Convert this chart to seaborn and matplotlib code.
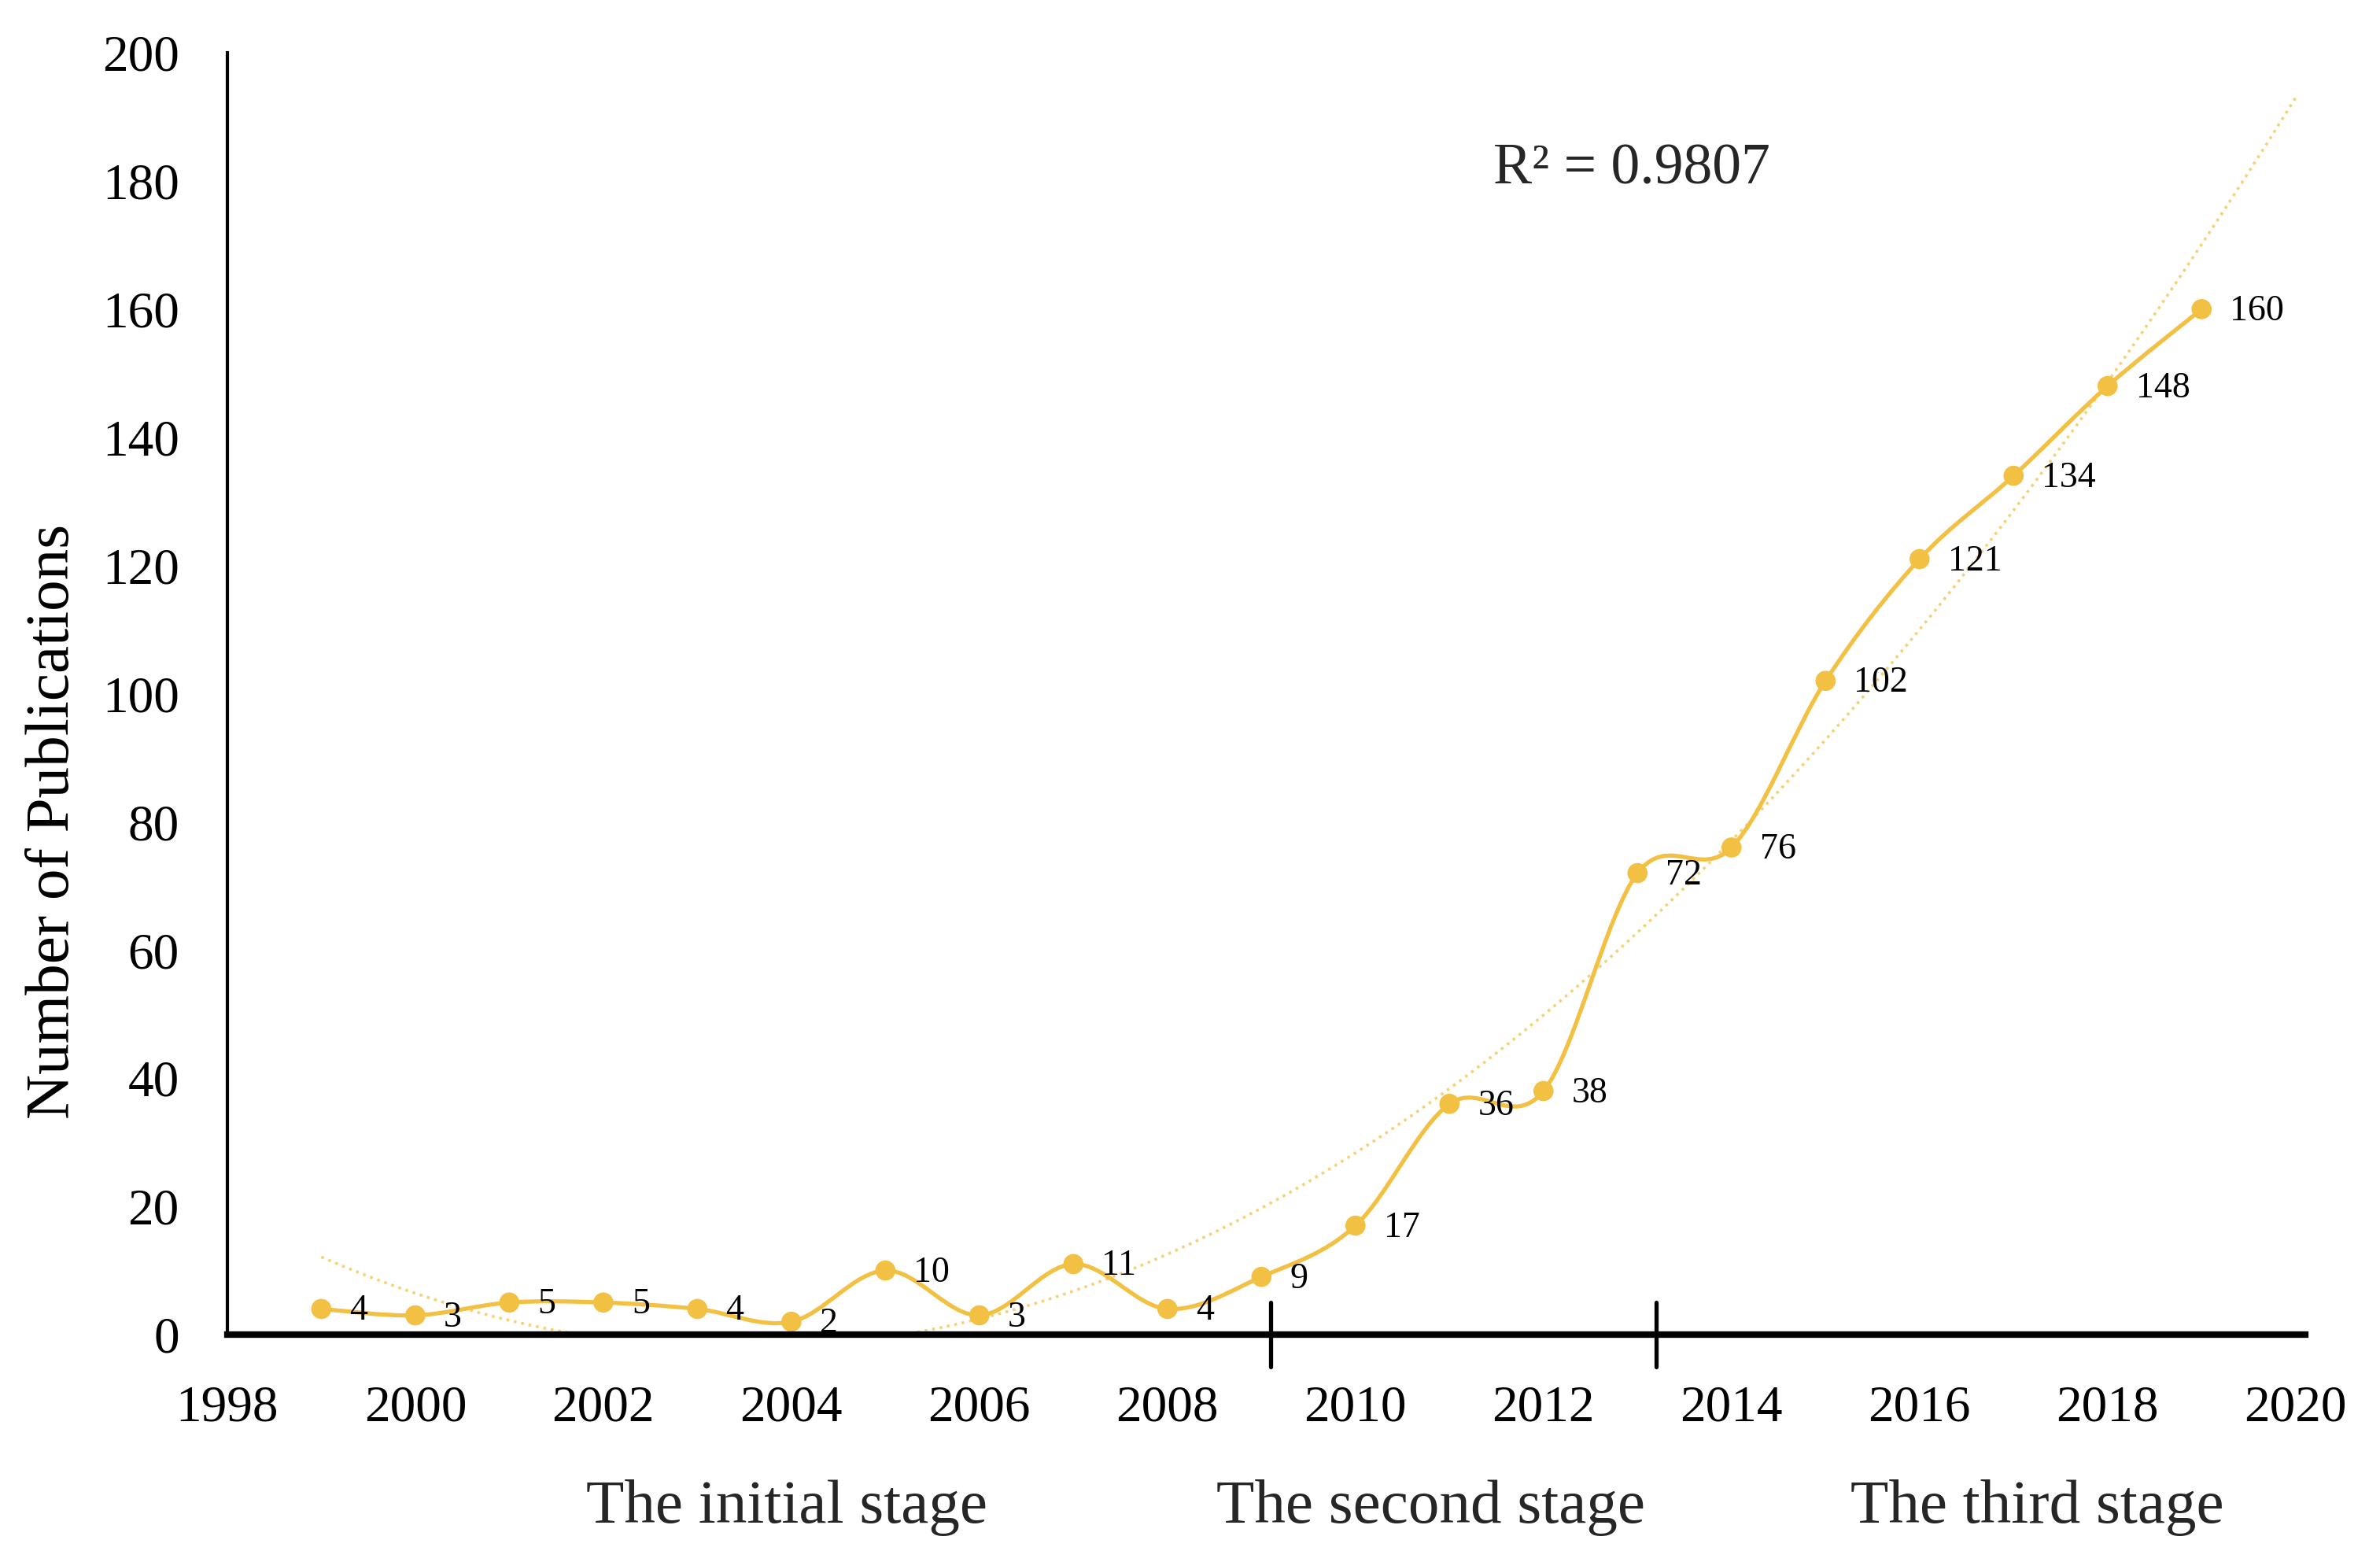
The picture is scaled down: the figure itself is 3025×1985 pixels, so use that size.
import numpy as np
import matplotlib
matplotlib.use("Agg")
import matplotlib.pyplot as plt
import seaborn as sns
from matplotlib.path import Path
from matplotlib.patches import PathPatch

# publications per year
years = [1999, 2000, 2001, 2002, 2003, 2004, 2005, 2006, 2007, 2008, 2009,
         2010, 2011, 2012, 2013, 2014, 2015, 2016, 2017, 2018, 2019]
pubs = [4, 3, 5, 5, 4, 2, 10, 3, 11, 4, 9,
        17, 36, 38, 72, 76, 102, 121, 134, 148, 160]

stage_breaks = [2009.1, 2013.2]
stage_names = ["The initial stage", "The second stage", "The third stage"]
stage_centers = [2003.95, 2010.8, 2017.25]
r2_text = "R² = 0.9807"

GOLD = "#F2C042"

sns.set_theme(style="white")
plt.rcParams["font.family"] = ["Liberation Serif", "DejaVu Serif"]

fig = plt.figure(figsize=(30.25, 19.85), dpi=100)
ax = fig.add_axes([0.0955, 0.1456, 0.873, 0.8206])

# smoothed line (Excel-style Catmull-Rom bezier through the points)
pts = np.column_stack([years, pubs]).astype(float)
ext = np.vstack([pts[0], pts, pts[-1]])
verts = [tuple(pts[0])]
codes = [Path.MOVETO]
for i in range(len(pts) - 1):
    p_prev, p0, p1, p_next = ext[i], ext[i + 1], ext[i + 2], ext[i + 3]
    c1 = p0 + (p1 - p_prev) / 6.0
    c2 = p1 - (p_next - p0) / 6.0
    verts += [tuple(c1), tuple(c2), tuple(p1)]
    codes += [Path.CURVE4] * 3
ax.add_patch(PathPatch(Path(verts, codes), facecolor="none", edgecolor=GOLD,
                       lw=3.8, zorder=3))

sns.scatterplot(x=years, y=pubs, color=GOLD, s=340, edgecolor="none",
                zorder=4, ax=ax)

# polynomial trendline, forecast to 2020
coef = np.polyfit(years, pubs, 2)
xt = np.linspace(years[0], 2020, 300)
sns.lineplot(x=xt, y=np.polyval(coef, xt), color=GOLD, lw=2.6,
             linestyle=":", alpha=0.7, ax=ax, zorder=2)

for x, y in zip(years, pubs):
    ax.annotate(str(y), (x, y), xytext=(26, -2), textcoords="offset points",
                ha="left", va="center", fontsize=33, color="black", zorder=5)

ax.text(2011.47, 181.7, r2_text, fontsize=53, ha="left", va="center")

ax.set_xlim(1998, 2020.1)
ax.set_ylim(0, 200)
ax.set_xticks(range(1998, 2021, 2))
ax.set_yticks(range(0, 201, 20))
ax.tick_params(axis="both", length=0, labelsize=47, colors="black")
ax.tick_params(axis="x", pad=46)
ax.tick_params(axis="y", pad=44)

for s in ["top", "right"]:
    ax.spines[s].set_visible(False)
ax.spines["left"].set_color("black")
ax.spines["left"].set_linewidth(3)
ax.spines["bottom"].set_color("black")
ax.spines["bottom"].set_linewidth(6)
ax.spines["bottom"].set_zorder(6)

for xb in stage_breaks:
    ax.axvline(xb, ymin=-0.025, ymax=0.025, color="black", lw=3.8, clip_on=False)

for xc, name in zip(stage_centers, stage_names):
    ax.text(xc, -0.135, name, transform=ax.get_xaxis_transform(),
            ha="center", va="center", fontsize=57)

ax.set_ylabel("Number of Publications", fontsize=57, color="black")
ax.yaxis.set_label_coords(-0.07, 0.40)
ax.set_xlabel("")

fig.savefig("out.png", dpi=100)
